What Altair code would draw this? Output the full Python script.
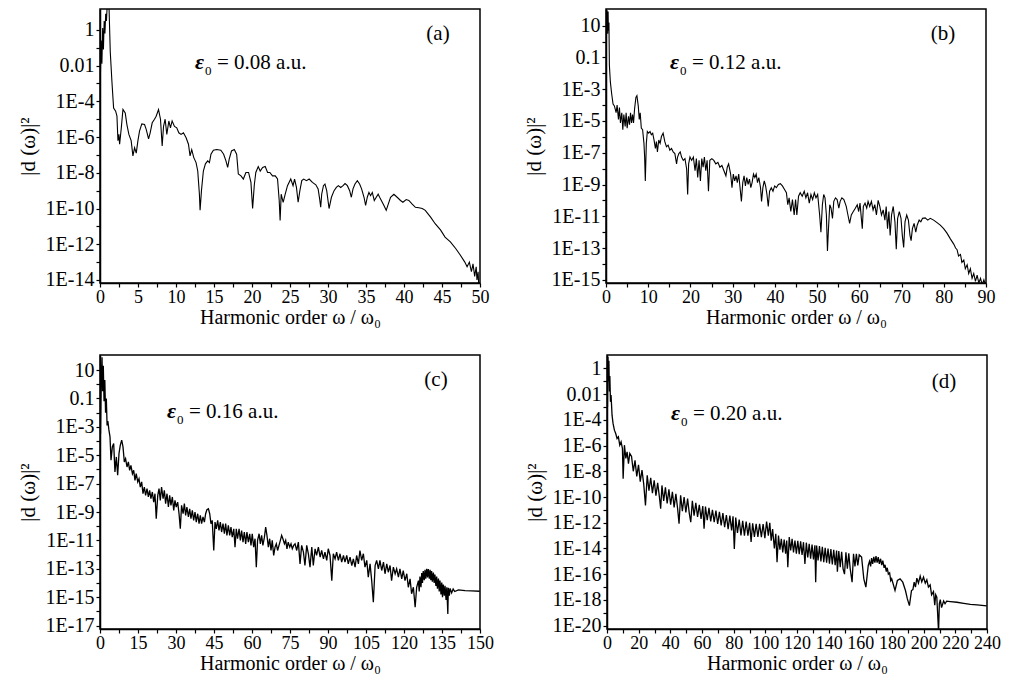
import altair as alt
import pandas as pd
import numpy as np

FONT = "Liberation Serif"

# ---- data: (harmonic order, log10 |d(w)|^2) ----
A_PTS = [(0.05,-2.6),(0.15,-0.6),(0.25,-1.9),(0.35,0.1),(0.45,-1.1),(0.55,0.5),(0.65,-0.2),(0.75,0.9),(0.85,0.5),(0.95,1.4),(1.18,1.4),(1.35,-1.22),(1.57,-2.9),(1.79,-4.37),(2.06,-4.55),(2.23,-4.83),(2.36,-6.2),(2.49,-5.85),(2.58,-6.4),(2.8,-5.5),(3.02,-4.45),(3.32,-4.65),(3.54,-5.3),(3.8,-5.85),(4.1,-6.2),(4.33,-7.05),(4.55,-6.6),(4.77,-6.9),(4.99,-6.2),(5.2,-5.67),(5.5,-5.26),(5.86,-5.3),(6.08,-5.57),(6.39,-6.1),(6.6,-5.76),(6.87,-5.2),(7.17,-5.0),(7.39,-4.83),(7.7,-4.46),(7.96,-5.0),(8.18,-6.5),(8.36,-5.4),(8.57,-5.0),(8.79,-5.85),(9.06,-5.1),(9.27,-5.48),(9.49,-5.1),(9.8,-5.4),(10.1,-5.48),(10.37,-5.76),(10.67,-5.85),(10.98,-5.76),(11.33,-6.04),(11.64,-6.4),(11.85,-7.05),(12.07,-6.7),(12.34,-7.15),(12.64,-7.43),(12.86,-7.9),(13.08,-9.2),(13.17,-10.1),(13.35,-9.0),(13.6,-7.9),(13.87,-7.5),(14.17,-7.33),(14.4,-7.43),(14.6,-6.96),(14.92,-6.74),(15.35,-6.7),(15.9,-6.74),(16.27,-6.96),(16.57,-7.33),(16.8,-7.7),(17.0,-7.24),(17.3,-6.78),(17.67,-6.7),(17.98,-6.96),(18.2,-8.07),(18.55,-8.17),(18.86,-8.35),(19.2,-7.98),(19.55,-7.98),(19.86,-8.54),(20.08,-10.0),(20.3,-8.7),(20.5,-7.98),(20.82,-7.65),(21.08,-7.9),(21.4,-7.7),(21.74,-7.65),(22.05,-7.98),(22.35,-7.98),(22.7,-8.17),(23.06,-8.17),(23.36,-8.35),(23.58,-9.55),(23.7,-10.67),(23.84,-9.2),(24.1,-9.65),(24.37,-9.2),(24.67,-8.72),(25.1,-8.35),(25.4,-8.72),(25.6,-8.35),(25.85,-8.82),(26.07,-9.65),(26.3,-9.0),(26.55,-8.44),(26.8,-8.35),(27.17,-8.44),(27.52,-8.35),(27.95,-8.54),(28.4,-8.67),(28.7,-8.9),(28.9,-9.46),(29.04,-9.93),(29.17,-9.2),(29.4,-8.72),(29.6,-8.63),(29.83,-9.0),(30.14,-10.0),(30.45,-9.37),(30.8,-9.0),(31.1,-8.82),(31.36,-8.72),(31.67,-8.82),(31.98,-8.72),(32.24,-8.6),(32.55,-8.72),(32.85,-9.0),(33.07,-9.37),(33.29,-8.9),(33.55,-8.63),(33.86,-8.44),(34.16,-8.63),(34.42,-8.9),(34.74,-9.37),(34.95,-9.83),(35.17,-9.37),(35.39,-9.1),(35.6,-9.28),(35.83,-9.1),(36.09,-9.55),(36.35,-9.37),(36.6,-9.2),(36.9,-9.46),(37.36,-9.83),(37.66,-10.1),(37.93,-9.75),(38.23,-9.37),(38.67,-9.2),(39.1,-9.37),(39.54,-9.55),(39.86,-9.65),(40.29,-9.5),(40.64,-9.55),(41.08,-9.75),(41.5,-9.93),(41.96,-9.96),(42.4,-10.0),(42.8,-10.1),(43.5,-10.48),(44.1,-10.85),(44.8,-11.2),(45.4,-11.6),(46.1,-11.87),(46.8,-12.24),(47.4,-12.6),(48.0,-13.0),(48.3,-13.26),(48.6,-13.0),(48.87,-13.54),(49.08,-13.1),(49.3,-13.8),(49.5,-13.26),(49.6,-14.0),(49.75,-13.54),(49.85,-14.5)]

B_PTS = [(0.24,1.97),(0.4,0.5),(0.5,1.9),(0.56,0.68),(0.7,1.2),(0.8,-1.47),(1.03,-2.54),(1.35,-3.3),(1.67,-3.94),(1.99,-4.05),(2.39,-4.48),(2.63,-4.0),(2.95,-4.9),(3.18,-4.15),(3.42,-5.12),(3.74,-4.48),(3.98,-5.55),(4.22,-4.6),(4.54,-5.34),(4.77,-4.48),(5.01,-5.45),(5.33,-4.7),(5.57,-5.23),(5.81,-4.48),(6.05,-5.12),(6.29,-4.6),(6.52,-5.12),(6.76,-4.26),(7.08,-3.51),(7.32,-3.4),(7.64,-4.05),(7.88,-4.9),(8.1,-4.48),(8.36,-5.45),(8.67,-5.55),(8.99,-6.41),(9.15,-7.27),(9.31,-8.77),(9.55,-6.41),(9.79,-5.66),(10.1,-5.77),(10.43,-5.66),(10.74,-5.87),(11.06,-5.77),(11.38,-6.2),(11.7,-6.73),(11.94,-6.3),(12.18,-6.95),(12.5,-6.2),(12.82,-6.41),(13.13,-5.98),(13.53,-5.77),(13.93,-6.3),(14.32,-6.62),(14.72,-6.52),(15.12,-6.84),(15.52,-6.73),(15.91,-6.95),(16.31,-7.05),(16.71,-7.7),(16.95,-7.27),(17.26,-7.05),(17.58,-6.95),(17.9,-7.27),(18.3,-7.48),(18.7,-7.37),(19.1,-8.02),(19.34,-9.63),(19.57,-7.7),(19.89,-7.27),(20.29,-7.48),(20.69,-7.27),(21.09,-8.13),(21.4,-7.37),(21.72,-8.56),(22.04,-7.48),(22.36,-8.77),(22.68,-7.37),(23.0,-7.91),(23.3,-7.27),(23.63,-8.13),(23.95,-7.48),(24.27,-9.42),(24.59,-7.48),(25.07,-7.37),(25.54,-7.48),(26.0,-7.7),(26.5,-7.6),(26.98,-7.91),(27.45,-7.8),(27.93,-8.13),(28.4,-8.45),(28.72,-7.91),(29.04,-7.7),(29.52,-8.34),(29.84,-9.2),(30.15,-8.34),(30.47,-8.77),(30.8,-8.45),(31.1,-8.88),(31.43,-8.34),(31.75,-9.2),(32.07,-10.06),(32.39,-8.88),(32.7,-8.45),(33.02,-9.09),(33.34,-8.56),(33.66,-8.99),(33.98,-8.66),(34.3,-9.2),(34.6,-8.88),(34.93,-8.34),(35.25,-8.56),(35.57,-8.34),(35.88,-8.88),(36.2,-8.56),(36.6,-9.2),(36.84,-10.06),(37.16,-9.2),(37.48,-8.77),(37.8,-9.09),(38.12,-9.63),(38.43,-10.38),(38.75,-9.42),(39.15,-9.2),(39.55,-9.42),(39.95,-9.09),(40.34,-9.2),(40.82,-8.99),(41.3,-8.95),(41.78,-9.09),(42.25,-9.3),(42.73,-9.52),(43.05,-10.27),(43.37,-9.84),(43.77,-10.7),(44.16,-9.95),(44.57,-10.92),(44.9,-9.95),(45.2,-10.92),(45.6,-9.74),(46.0,-9.52),(46.47,-9.74),(46.95,-9.42),(47.34,-9.84),(47.74,-9.52),(48.14,-10.17),(48.54,-9.63),(48.94,-9.95),(49.34,-9.52),(49.73,-9.84),(50.13,-9.63),(50.6,-10.92),(50.9,-12.0),(51.25,-10.27),(51.56,-9.63),(51.87,-9.84),(52.2,-10.92),(52.45,-13.18),(52.69,-11.78),(53.0,-10.27),(53.3,-10.49),(53.64,-11.13),(53.95,-10.06),(54.35,-9.84),(54.74,-9.95),(55.14,-10.49),(55.46,-10.06),(55.86,-9.84),(56.34,-9.95),(56.9,-10.38),(57.3,-10.92),(57.7,-11.45),(58.1,-10.92),(58.57,-10.7),(59.05,-10.49),(59.5,-10.27),(59.85,-10.7),(60.16,-10.17),(60.48,-11.13),(60.7,-11.78),(60.95,-10.38),(61.35,-10.17),(61.75,-10.49),(62.07,-10.06),(62.46,-10.38),(62.86,-10.06),(63.26,-10.6),(63.66,-10.27),(64.05,-10.92),(64.45,-10.0),(64.85,-10.38),(65.25,-10.92),(65.65,-10.6),(66.05,-11.24),(66.36,-10.38),(66.68,-11.78),(67.0,-10.7),(67.3,-12.2),(67.63,-10.92),(68.03,-10.38),(68.43,-11.35),(68.75,-13.07),(69.07,-11.13),(69.47,-10.7),(69.87,-11.13),(70.18,-12.2),(70.5,-12.96),(70.82,-11.35),(71.22,-10.92),(71.62,-11.24),(72.0,-12.2),(72.26,-12.53),(72.57,-11.78),(72.97,-11.45),(73.37,-12.0),(73.7,-11.56),(74.17,-11.24),(74.57,-11.35),(74.97,-11.13),(75.6,-11.1),(76.2,-11.24),(76.8,-11.13),(77.6,-11.24),(78.4,-11.4),(79.17,-11.56),(79.97,-11.78),(80.76,-12.06),(81.56,-12.42),(82.36,-12.75),(82.8,-13.0),(83.15,-13.1),(83.5,-13.5),(83.95,-13.4),(84.3,-13.9),(84.74,-13.75),(85.1,-14.3),(85.54,-14.05),(85.9,-14.6),(86.3,-14.3),(86.7,-14.9),(87.1,-14.6),(87.5,-15.1),(87.9,-14.7),(88.3,-15.2),(88.7,-14.9),(89.1,-15.3),(89.5,-15.0),(89.85,-15.3)]

C_PTS = [(0.2,-3.5),(0.5,0.5),(0.8,1.9),(1.0,-0.5),(1.3,1.3),(1.6,-1.2),(1.9,0.3),(2.2,-2.0),(2.5,-1.0),(2.8,-2.9),(3.1,-2.6),(3.5,-3.2),(3.95,-3.71),(4.35,-5.35),(4.87,-4.41),(5.4,-4.18),(5.9,-6.18),(6.45,-5.12),(6.97,-6.41),(7.5,-4.88),(8.0,-4.3),(8.56,-3.94),(9.08,-4.41),(9.6,-5.47),(10.1,-5.24),(10.66,-5.83),(11.2,-5.47),(11.7,-6.06),(12.2,-5.71),(12.8,-6.3),(13.3,-6.06),(13.8,-6.77),(14.3,-6.3),(14.9,-6.88),(15.4,-6.65),(15.9,-7.24),(16.45,-6.88),(16.97,-7.71),(17.5,-7.24),(18.0,-7.83),(18.56,-7.35),(19.08,-7.94),(19.6,-7.47),(20.1,-8.06),(20.66,-7.59),(21.2,-8.3),(21.7,-7.71),(22.2,-9.47),(22.8,-7.83),(23.3,-7.35),(23.8,-8.18),(24.3,-7.24),(24.9,-8.06),(25.4,-7.47),(25.9,-8.41),(26.45,-7.71),(27.0,-8.65),(27.5,-7.83),(28.0,-8.53),(28.56,-7.94),(29.1,-8.88),(29.6,-8.18),(30.1,-8.65),(30.66,-8.3),(31.2,-9.12),(31.7,-10.18),(32.2,-8.53),(32.8,-9.12),(33.3,-8.41),(33.8,-9.24),(34.3,-8.65),(34.9,-9.35),(35.4,-8.77),(35.9,-9.47),(36.45,-8.88),(36.97,-9.59),(37.5,-9.0),(38.0,-9.71),(38.56,-9.12),(39.1,-9.82),(39.6,-9.24),(40.1,-9.82),(40.66,-9.35),(41.2,-9.71),(41.7,-9.12),(42.2,-8.84),(42.8,-8.77),(43.3,-9.12),(43.8,-9.82),(44.3,-9.59),(44.9,-11.71),(45.4,-9.71),(45.9,-10.18),(46.45,-9.59),(46.97,-10.3),(47.5,-9.71),(48.0,-10.41),(48.56,-9.82),(49.1,-10.53),(49.6,-9.82),(50.1,-10.65),(50.66,-9.94),(51.2,-10.65),(51.7,-10.06),(52.2,-10.77),(52.8,-10.18),(53.3,-11.47),(53.8,-10.18),(54.3,-10.88),(54.9,-10.18),(55.4,-11.0),(55.9,-10.3),(56.45,-11.12),(56.97,-10.41),(57.5,-11.24),(58.0,-10.41),(58.56,-11.12),(59.1,-10.53),(59.6,-11.35),(60.1,-10.53),(60.66,-11.47),(61.2,-10.88),(61.7,-12.88),(62.2,-11.0),(62.8,-10.53),(63.3,-11.24),(63.8,-10.65),(64.3,-11.35),(64.9,-10.77),(65.4,-10.06),(65.9,-10.65),(66.45,-11.47),(66.97,-10.88),(67.5,-11.71),(68.0,-11.0),(68.56,-12.06),(69.1,-11.47),(69.6,-11.24),(70.1,-11.71),(70.66,-11.35),(71.2,-11.0),(71.7,-10.65),(72.2,-10.88),(72.8,-11.24),(73.3,-11.0),(73.8,-11.59),(74.3,-11.12),(74.9,-11.47),(75.4,-11.24),(75.9,-11.59),(76.45,-11.35),
(77.0,-11.24),(77.65,-11.71),(78.3,-11.12),(78.96,-12.65),(79.6,-11.35),(80.3,-11.82),(80.9,-12.77),(81.6,-11.35),(82.25,-11.94),(82.9,-12.88),(83.6,-11.47),(84.2,-12.77),(84.9,-11.59),(85.5,-12.06),(86.2,-11.47),(86.9,-12.18),(87.5,-11.71),(88.2,-12.3),(88.8,-11.82),(89.5,-12.41),(90.1,-11.59),(90.8,-12.06),(91.5,-13.83),(92.1,-11.94),(92.8,-12.3),(93.4,-11.82),(94.1,-12.41),(94.75,-11.94),(95.4,-12.53),(96.1,-12.06),(96.7,-12.53),(97.4,-12.06),(98.0,-12.65),(98.7,-12.18),(99.4,-12.77),(100.0,-12.3),(100.7,-12.88),(101.3,-12.06),(102.0,-12.65),(102.6,-11.71),(103.3,-12.41),(103.96,-11.94),(104.6,-12.88),(105.3,-12.41),(105.9,-13.59),(106.6,-12.65),(107.25,-13.83),(107.9,-15.36),(108.6,-12.77),(109.2,-12.41),(109.9,-13.0),(110.5,-12.41),(111.2,-13.12),(111.9,-12.53),(112.5,-13.35),(113.2,-12.65),(113.8,-13.24),(114.5,-12.77),(115.1,-13.83),(115.8,-12.88),(116.5,-13.35),(117.1,-13.0),(117.8,-13.59),(118.4,-13.0),(119.1,-13.71),(119.7,-13.12),(120.4,-13.83),(121.1,-13.35),(121.7,-14.3),(122.4,-13.71),(123.0,-14.76),(123.7,-14.3),(124.4,-15.71),(125.0,-14.3),(125.7,-13.83),(126.0,-14.6),(126.3,-13.54),(126.7,-14.3),(127.0,-13.3),(127.3,-14.0),(127.6,-13.16),(128.0,-13.8),(128.3,-13.07),(128.6,-13.7),(128.96,-13.0),(129.3,-13.6),(129.6,-13.02),(130.0,-13.7),(130.3,-13.07),(130.6,-13.8),(130.9,-13.16),(131.2,-13.9),(131.6,-13.26),(131.9,-14.0),(132.2,-13.4),(132.6,-14.2),(132.9,-13.54),(133.2,-14.4),(133.6,-13.68),(133.9,-14.6),(134.2,-13.83),(134.6,-14.8),(134.9,-13.97),(135.2,-15.0),(135.5,-14.11),(135.9,-14.9),(136.2,-14.2),(136.6,-15.2),(136.9,-14.3),(137.3,-16.18),(137.5,-14.34),(137.9,-14.9),(138.2,-14.38),(138.8,-14.7),(139.4,-14.42),(140.0,-14.6),(141.5,-14.48),(144.1,-14.53),(146.7,-14.55),(149.9,-14.58)]

D_PTS = [(0.3,-3.0),(0.6,0.9),(0.9,-1.0),(1.2,0.6),(1.5,-1.8),(1.8,-0.6),(2.2,-2.6),(2.56,-2.08),(3.19,-3.64),(3.82,-4.28),(4.67,-4.8),(5.5,-5.06),(6.36,-5.45),(7.2,-5.32),(8.05,-5.97),(8.9,-5.71),(9.75,-6.23),(10.2,-8.57),(11.0,-5.97),(11.9,-7.0),(12.7,-6.49),(13.55,-7.4),(14.4,-6.62),
(15.5,-6.85),(16.6,-8.0),(17.7,-7.15),(18.8,-8.4),(19.9,-7.5),(21.0,-8.8),(22.1,-7.9),(23.2,-9.0),(24.3,-10.65),(25.4,-8.31),(26.5,-9.5),(27.6,-8.5),(28.7,-9.7),(29.8,-8.7),(30.9,-9.9),(32.0,-8.9),(33.1,-10.0),(33.9,-10.9),(34.7,-9.1),(35.8,-10.3),(36.9,-9.25),(38.0,-10.5),(39.1,-9.4),(40.2,-10.6),(41.3,-9.6),(42.4,-10.8),(43.5,-9.75),(44.6,-10.9),(45.5,-12.08),(46.5,-9.87),(47.6,-11.1),(48.7,-10.0),(49.8,-11.2),(50.9,-10.13),(52.0,-11.3),(52.9,-11.95),(53.9,-10.3),(55.0,-11.45),(56.1,-10.45),(57.2,-11.55),(58.3,-10.6),(59.4,-11.7),(60.5,-10.7),(61.3,-12.47),(62.2,-10.75),(63.3,-11.8),(64.4,-10.85),(65.5,-11.9),(66.6,-11.0),(67.7,-11.95),(68.8,-11.05),(69.9,-12.1),(71.0,-11.15),(72.1,-12.2),(73.2,-11.25),(74.3,-12.35),(75.4,-11.4),(76.5,-12.5),(77.6,-11.45),(78.7,-12.6),(79.6,-11.5),(80.4,-14.03),(81.3,-11.6),(82.4,-12.8),(83.5,-11.75),(84.6,-12.99),(85.7,-11.85),(86.8,-13.0),(87.9,-11.9),(89.0,-13.0),(90.1,-12.0),(91.0,-13.5),(92.0,-12.05),(93.1,-13.1),(94.2,-12.08),(95.3,-13.1),(96.4,-12.08),(97.5,-13.12),(98.6,-12.1),(99.7,-13.2),(100.8,-11.9),(101.9,-13.0),(102.8,-12.0),(103.7,-13.4),(104.6,-12.5),(105.7,-14.0),(106.6,-12.86),(107.4,-15.06),(108.3,-13.0),(109.2,-14.1),(110.1,-13.25),(111.0,-14.3),(111.9,-13.3),(112.8,-14.4),(113.5,-13.38),(114.2,-15.45),(115.1,-13.12),(116.0,-14.16),(116.9,-13.25),(117.8,-14.3),(118.7,-13.38),(119.6,-14.41),(120.5,-13.4),(121.4,-14.45),(122.3,-13.45),(123.2,-14.5),(124.1,-13.51),(125.0,-15.2),(125.9,-13.55),(126.8,-14.7),(127.7,-13.64),(128.6,-14.8),(129.5,-13.7),(130.4,-14.85),(131.3,-13.75),(131.8,-16.62),(132.4,-13.77),(133.3,-14.93),(134.2,-13.82),(135.1,-15.0),(136.0,-13.88),(136.9,-15.06),(137.8,-13.95),(138.7,-15.1),(139.6,-14.0),(140.5,-15.19),(141.4,-14.05),(142.3,-15.25),(143.2,-14.1),(144.1,-15.3),(145.0,-14.16),(145.5,-15.8),(146.4,-14.2),(147.3,-15.45),(148.2,-14.25),(149.1,-15.58),(150.0,-16.0),(150.9,-14.3),(151.8,-15.58),(152.7,-14.38),(153.6,-15.58),(154.8,-16.62),(155.7,-14.41),(156.6,-15.4),(157.5,-14.41),(158.4,-15.32),(159.3,-14.5),(160.8,-14.67),(162.2,-16.36),(163.5,-17.01),(165.0,-15.32),(165.8,-15.0),(166.5,-15.4),(167.1,-14.75),(167.8,-15.2),(168.5,-14.65),(169.2,-15.1),(169.9,-14.6),(170.6,-15.1),(171.3,-14.67),(172.0,-15.2),(172.8,-14.8),(173.5,-15.3),(174.2,-14.95),(175.0,-15.5),(175.6,-15.27),(176.4,-15.8),(177.0,-15.5),(177.7,-16.0),(178.5,-15.9),(179.2,-16.5),(179.8,-16.36),(181.9,-17.27),(183.4,-16.49),(185.1,-16.36),(186.8,-16.62),(188.5,-17.27),(189.7,-17.92),(191.0,-18.44),(192.3,-17.27),(193.2,-17.2),(194.0,-16.62),(194.8,-17.0),(195.7,-16.31),(196.7,-16.7),(197.8,-16.15),(198.8,-16.6),(199.9,-16.23),(201.0,-16.7),(202.0,-16.44),(203.0,-17.0),(204.1,-16.83),(205.0,-17.6),(206.2,-17.35),(207.0,-18.4),(207.6,-17.6),(208.3,-17.79),(208.8,-19.0),(209.4,-20.5),(209.9,-18.3),(210.5,-17.97),(211.3,-18.6),(212.6,-18.08),(213.5,-18.3),(214.5,-18.1),(216.8,-18.13),(221.0,-18.18),(225.3,-18.26),(229.5,-18.34),(233.7,-18.39),(239.8,-18.47)]

FIELDS = ["0.08", "0.12", "0.16", "0.20"]
TAGS = ["(a)", "(b)", "(c)", "(d)"]
XMAX = [50, 90, 150, 240]
XSTEP = [2.5, 5, 7.5, 10]          # tick spacing (labels on every second)
YDOM = [(-14.17, 1.17), (-15.2, 2.05), (-17.24, 2.06), (-20.26, 1.04)]
YPARITY = [0, 1, 1, 0]             # which decades carry labels
LINEW = [1.1, 1.1, 1.3, 1.3]

W, H = 380, 274
LAB = [(95, 60, 338, 31), (64, 60, 337, 31), (67, 63, 336, 31), (64, 65, 337, 33)]


def panel(i, pts):
    df = pd.DataFrame({"x": [p[0] for p in pts], "y": [10.0 ** p[1] for p in pts]})
    lo, hi = YDOM[i]
    yvals = [10.0 ** k for k in range(int(np.ceil(lo)), int(np.floor(hi - 0.3)) + 1)]
    e = "round(log(datum.value)/LN10)"
    par = YPARITY[i]
    ylab = (f"(({e}) % 2 == {par} || ({e}) % 2 == -{par}) ? "
            f"(({e}) == 1 ? '10' : ({e}) == 0 ? '1' : ({e}) == -1 ? '0.1' : ({e}) == -2 ? '0.01' : '1E' + ({e})) : ''")
    step = XSTEP[i]
    xvals = [round(k * step, 3) for k in range(int(round(XMAX[i] / step)) + 1)]
    xlab = f"datum.value % {2 * step} == 0 ? '' + datum.value : ''"

    line = alt.Chart(df).mark_line(color="black", strokeWidth=LINEW[i], clip=True).encode(
        x=alt.X("x:Q", scale=alt.Scale(domain=[0, XMAX[i]], nice=False, zero=False),
                axis=alt.Axis(title="Harmonic order ω / ω₀", values=xvals, labelExpr=xlab,
                              grid=False, tickSize=4, labelPadding=1, minExtent=22, maxExtent=22,
                              titlePadding=2, labelOverlap=False, labelFlush=False,
                              labelFontSize=18, titleFontSize=20)),
        y=alt.Y("y:Q", scale=alt.Scale(type="log", domain=[10.0 ** lo, 10.0 ** hi], nice=False),
                axis=alt.Axis(title="|d (ω)|²", values=yvals, labelExpr=ylab, grid=False,
                              tickSize=4, labelPadding=2, minExtent=58, maxExtent=58,
                              titlePadding=4, labelOverlap=False, labelFontSize=20, titleFontSize=21)),
    )
    ex, ey, tx, ty = LAB[i]
    t = pd.DataFrame({"eps": ["ε"], "sub": ["0"], "rest": [f"= {FIELDS[i]} a.u."], "tag": [TAGS[i]]})
    base = alt.Chart(t)
    eps = base.mark_text(font=FONT, fontSize=22, fontStyle="italic", fontWeight="bold",
                         align="left", baseline="alphabetic", color="black").encode(
        x=alt.value(ex), y=alt.value(ey), text="eps:N")
    sub = base.mark_text(font=FONT, fontSize=13, align="left", baseline="alphabetic", color="black").encode(
        x=alt.value(ex + 10), y=alt.value(ey + 6), text="sub:N")
    rest = base.mark_text(font=FONT, fontSize=21, align="left", baseline="alphabetic", color="black").encode(
        x=alt.value(ex + 22), y=alt.value(ey), text="rest:N")
    tag = base.mark_text(font=FONT, fontSize=21, align="center", baseline="alphabetic", color="black").encode(
        x=alt.value(tx), y=alt.value(ty), text="tag:N")
    return alt.layer(line, eps, sub, rest, tag).properties(width=W, height=H)


panels = [panel(i, p) for i, p in enumerate([A_PTS, B_PTS, C_PTS, D_PTS])]

chart = alt.vconcat(
    alt.hconcat(panels[0], panels[1], spacing=32),
    alt.hconcat(panels[2], panels[3], spacing=28),
    spacing=26,
).properties(padding={"left": 16, "top": 8, "right": 5, "bottom": 2}, background="white").configure_view(
    stroke="black", strokeWidth=1.5
).configure_axis(
    labelFont=FONT, titleFont=FONT, labelColor="black", titleColor="black",
    domainColor="black", domainWidth=1.5, tickColor="black", tickWidth=1.2,
    titleFontWeight="normal",
)

chart.save("out.html", embed_options={"renderer": "svg", "actions": False})
